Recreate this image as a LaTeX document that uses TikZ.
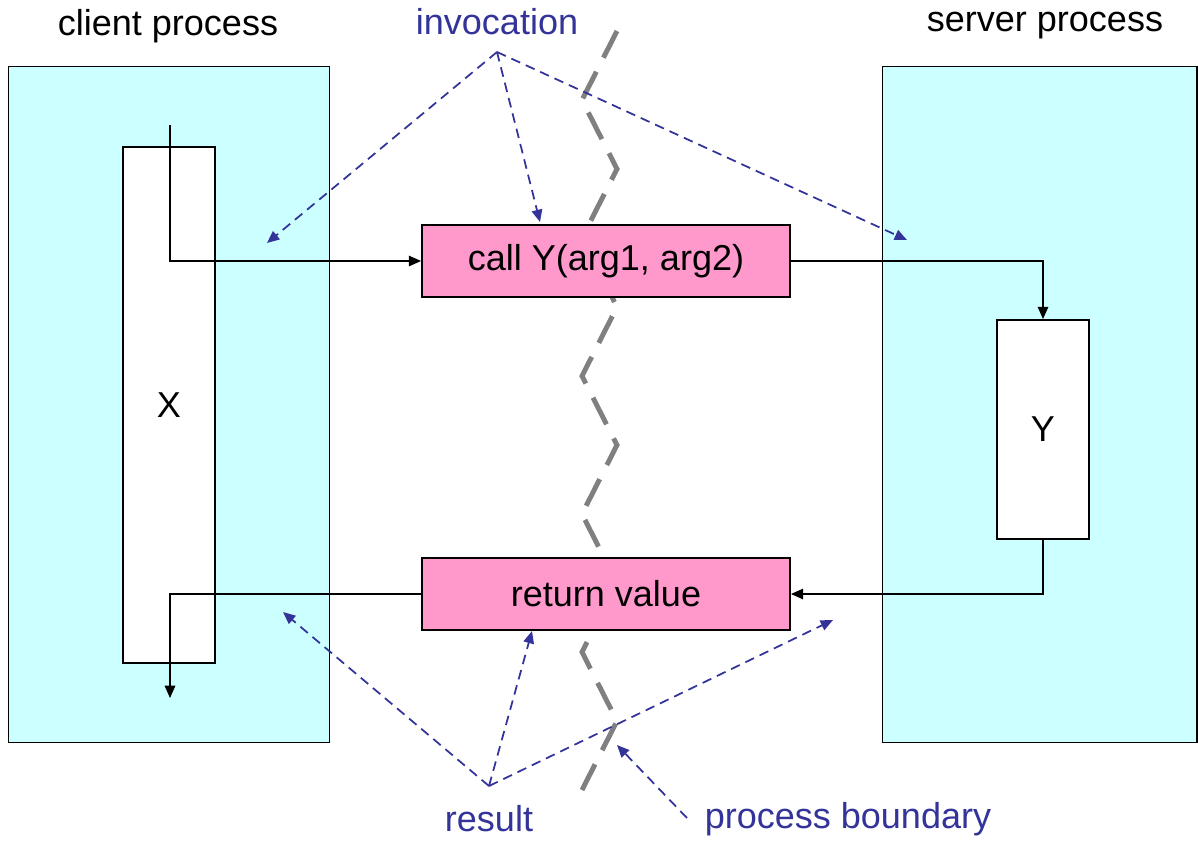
\documentclass[tikz,border=0pt]{standalone}
\usepackage{fontspec}
\setmainfont{Liberation Sans}
\usetikzlibrary{arrows.meta}
\definecolor{cyanbg}{HTML}{CCFFFF}
\definecolor{pinkbg}{HTML}{FF99CC}
\definecolor{navy}{HTML}{333399}
\definecolor{zig}{HTML}{808080}
\tikzset{
  proc/.style={draw=black, line width=0.6pt, fill=cyanbg, inner sep=0pt},
  actbox/.style={draw=black, line width=1.1pt, fill=white, inner sep=0pt, minimum width=1.84cm},
  msgbox/.style={draw=black, line width=1.1pt, fill=pinkbg, inner sep=0pt, minimum width=7.36cm, minimum height=1.44cm},
  conn/.style={draw=black, line width=0.85pt, -{Triangle[length=7pt,width=6pt]}},
  note/.style={draw=navy, line width=1pt, dash pattern=on 5.5pt off 3.5pt, -{Triangle[length=7pt,width=6pt]}},
  lbl/.style={text=navy, inner sep=0pt},
  ttl/.style={text=black, inner sep=0pt},
  boundary/.style={draw=zig, line width=2.8pt, dash pattern=on 17pt off 9pt}
}
\begin{document}
\begin{tikzpicture}[x=0.02cm, y=-0.02cm, font=\fontsize{20.5}{24}\selectfont]
\useasboundingbox (0,0) rectangle (1198,843);
% process areas
\node[proc, minimum width=6.44cm, minimum height=13.54cm] (client) at (169,404.5) {};
\node[proc, minimum width=6.3cm, minimum height=13.54cm] (server) at (1039.5,404.5) {};
% titles
\node[ttl] (clientT) at (168,26) {client process};
\node[ttl] (serverT) at (1045,26) {server process};
% activation boxes
\node[actbox, minimum height=10.32cm] (X) at (169,405) {X};
\node[actbox, minimum height=4.38cm] (Y) at (1043,429.5) {Y};
% process boundary zigzag
\draw[boundary] (617,31) -- (582,100) -- (617,169) -- (582,238) -- (617,307) -- (582,376)
  -- (617,445) -- (582,514) -- (617,583) -- (582,652) -- (617,721) -- (582,790);
% messages
\node[msgbox] (call) at (606,261) {call Y(arg1, arg2)};
\node[msgbox] (ret) at (606,594) {return value};
% control flow
\coordinate (cstart) at (170,125);
\coordinate (cend) at (170,698);
\draw[conn] (cstart) |- (call.west);
\draw[conn] (call.east) -| (Y.north);
\draw[conn] (Y.south) |- (ret.east);
\draw[conn] (ret.west) -| (cend);
% labels
\node[lbl] (invT) at (497,22) {invocation};
\node[lbl] (resT) at (489,819) {result};
\node[lbl] (pbT) at (848,819) {process boundary};
\coordinate (inv) at (497,52);
\coordinate (res) at (489,786);
\coordinate (pbs) at (687,818);
\coordinate (i1) at (267,243);
\coordinate (i2) at (540,222);
\coordinate (i3) at (907,240);
\coordinate (r1) at (283,612);
\coordinate (r2) at (532,631);
\coordinate (r3) at (833,620);
\coordinate (pbe) at (617,745);
\draw[note] (inv) -- (i1);
\draw[note] (inv) -- (i2);
\draw[note] (inv) -- (i3);
\draw[note] (res) -- (r1);
\draw[note] (res) -- (r2);
\draw[note] (res) -- (r3);
\draw[note] (pbs) -- (pbe);
\end{tikzpicture}
\end{document}
